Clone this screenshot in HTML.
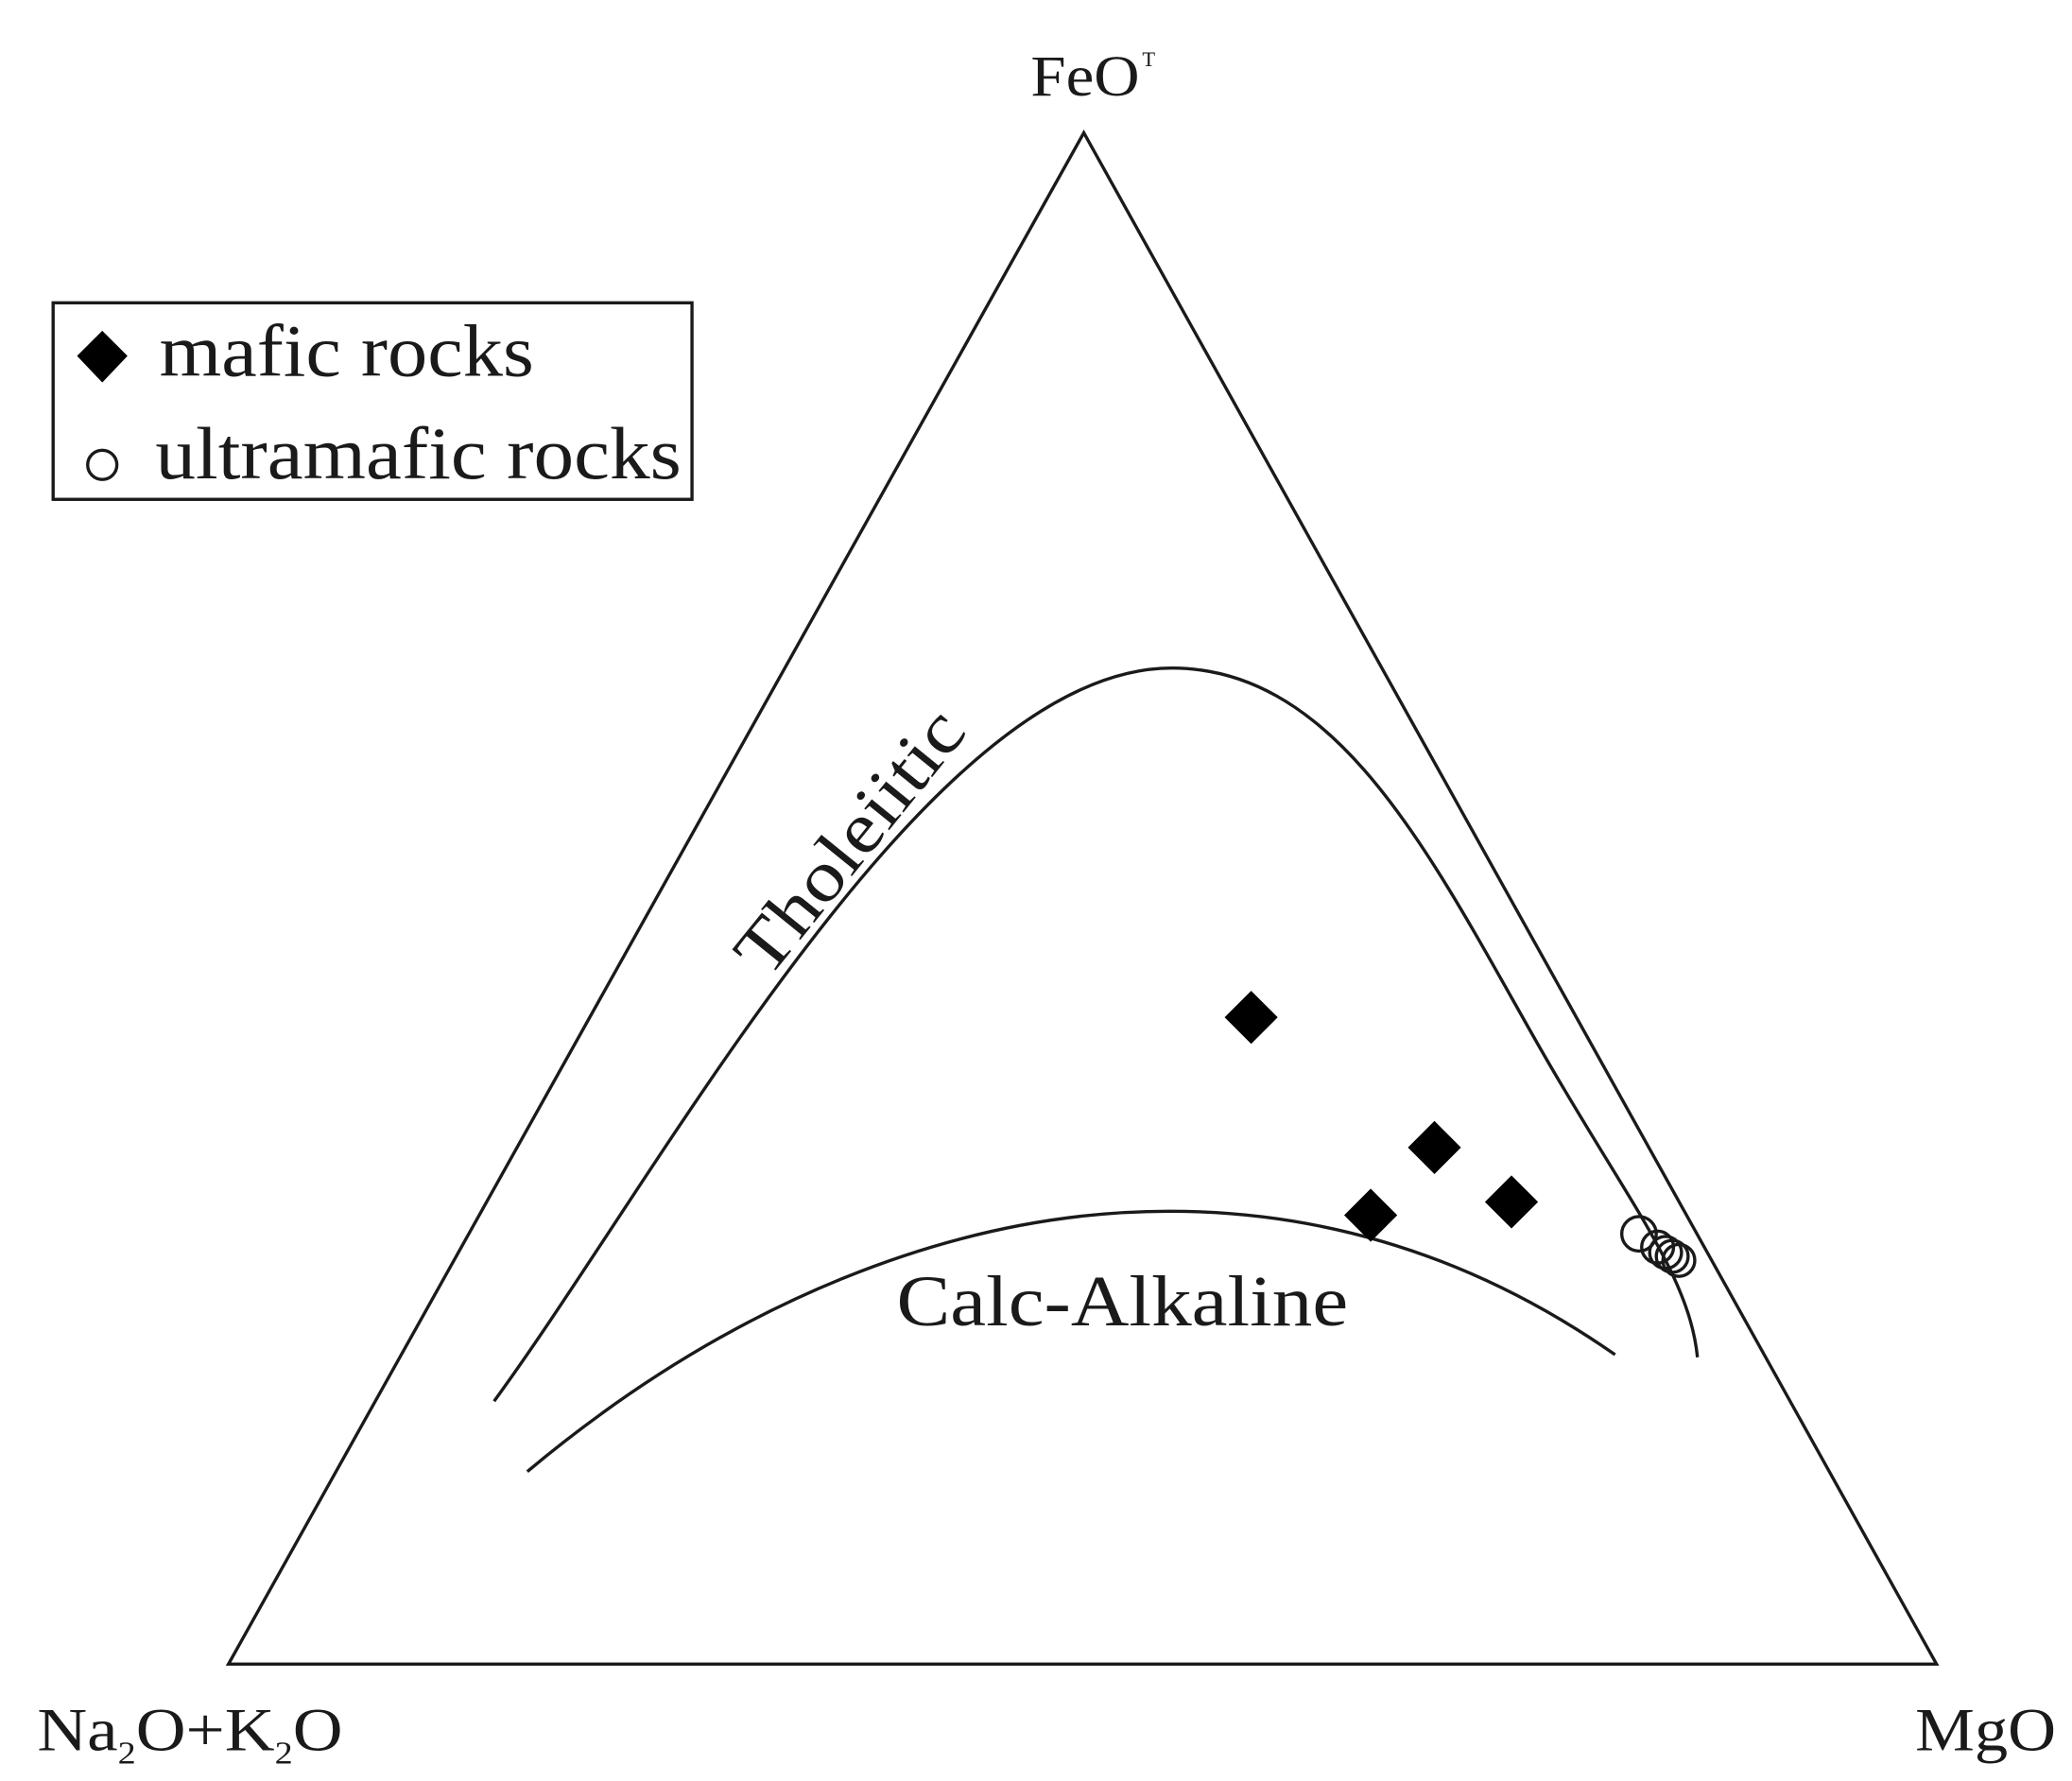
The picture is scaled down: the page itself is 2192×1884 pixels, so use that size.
<!DOCTYPE html>
<html><head><meta charset="utf-8"><style>html,body{margin:0;padding:0;background:#fff;}svg{display:block;}</style></head>
<body>
<svg width="2192" height="1884" viewBox="0 0 1560 1341" preserveAspectRatio="none" xmlns="http://www.w3.org/2000/svg">
<rect x="0" y="0" width="1560" height="1341" fill="#fff"/>
<g fill="none" stroke="#1a1a1a" stroke-width="2.4">
<polygon points="816,100 172,1253 1458,1253" stroke-linejoin="miter"/>
<rect x="40" y="228" width="481" height="148"/>
<path d="M372,1055 C 500,880 700,503 882,503 C 1010,503 1080,650 1160,790 C 1224,902 1272,960 1278,1022"/>
<path d="M397,1108 C 550,980 720,912 880,912 C 1020,912 1130,960 1216,1020"/>
<circle cx="1234" cy="929" r="13"/>
<circle cx="1248" cy="939" r="12"/>
<circle cx="1254" cy="943" r="12"/>
<circle cx="1259" cy="946" r="12"/>
<circle cx="1264" cy="949" r="12"/>
<circle cx="77" cy="350" r="11"/>
</g>
<g fill="#000">
<polygon points="942,746 962,766 942,786 922,766"/>
<polygon points="1080,844 1100,864 1080,884 1060,864"/>
<polygon points="1138,885 1158,905 1138,925 1118,905"/>
<polygon points="1032,895 1052,915 1032,935 1012,915"/>
<polygon points="77,249 96,268 77,288 58,268"/>
</g>
<g font-family="'Liberation Serif', serif" fill="#1a1a1a">
<text x="776" y="72" font-size="44" textLength="82" lengthAdjust="spacingAndGlyphs">FeO</text>
<text x="860" y="50" font-size="16">T</text>
<text x="28" y="1318" font-size="46" textLength="230" lengthAdjust="spacingAndGlyphs">Na<tspan font-size="24" dy="10">2</tspan><tspan dy="-10">O+K</tspan><tspan font-size="24" dy="10">2</tspan><tspan dy="-10">O</tspan></text>
<text x="1442" y="1318" font-size="46" textLength="106" lengthAdjust="spacingAndGlyphs">MgO</text>
<text x="120" y="283" font-size="56" textLength="282" lengthAdjust="spacingAndGlyphs">mafic rocks</text>
<text x="117" y="360" font-size="56" textLength="396" lengthAdjust="spacingAndGlyphs">ultramafic rocks</text>
<text x="675" y="998" font-size="54" textLength="340" lengthAdjust="spacingAndGlyphs">Calc-Alkaline</text>
<text x="0" y="0" font-size="54" textLength="240" lengthAdjust="spacingAndGlyphs" transform="translate(578,738) rotate(-51)">Tholeiitic</text>
</g>
</svg>
</body></html>
